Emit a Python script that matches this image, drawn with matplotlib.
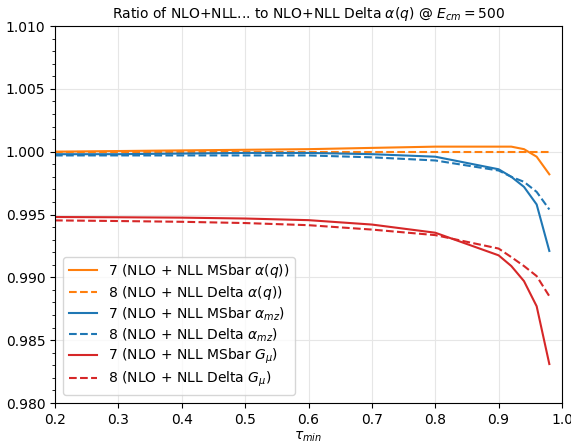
import matplotlib
matplotlib.use("Agg")
import matplotlib.pyplot as plt
from matplotlib.ticker import MultipleLocator, FormatStrFormatter

tau = [0.2, 0.3, 0.4, 0.5, 0.6, 0.7, 0.8, 0.9, 0.92, 0.94, 0.96, 0.98]

msbar_aq = [1.0000, 1.00005, 1.0001, 1.00015, 1.0002, 1.0003, 1.0004, 1.0004, 1.0004, 1.0002, 0.9996, 0.9982]
delta_aq = [1.0] * len(tau)
msbar_amz = [0.9998, 0.9998, 0.99985, 0.9999, 0.9999, 0.9998, 0.9996, 0.9986, 0.9980, 0.9972, 0.9958, 0.9921]
delta_amz = [0.9997, 0.9997, 0.9997, 0.9997, 0.9997, 0.99955, 0.9993, 0.9985, 0.9980, 0.9976, 0.9968, 0.9954]
msbar_gmu = [0.9948, 0.99478, 0.99475, 0.99468, 0.99455, 0.9942, 0.99355, 0.99175, 0.9909, 0.9897, 0.9877, 0.9831]
delta_gmu = [0.99453, 0.99448, 0.99442, 0.99432, 0.99415, 0.9938, 0.99336, 0.99229, 0.99161, 0.9909, 0.9901, 0.9885]

labels = [
    r"7 (NLO + NLL MSbar $\alpha(q)$)",
    r"8 (NLO + NLL Delta $\alpha(q)$)",
    r"7 (NLO + NLL MSbar $\alpha_{mz}$)",
    r"8 (NLO + NLL Delta $\alpha_{mz}$)",
    r"7 (NLO + NLL MSbar $G_{\mu}$)",
    r"8 (NLO + NLL Delta $G_{\mu}$)",
]

fig = plt.figure(figsize=(5.71, 4.43), dpi=100)
ax = fig.add_axes([55/571, 1 - 403/443, 507/571, 377/443])

ax.plot(tau, msbar_aq, color="#ff7f0e", ls="-", label=labels[0])
ax.plot(tau, delta_aq, color="#ff7f0e", ls="--", label=labels[1])
ax.plot(tau, msbar_amz, color="#1f77b4", ls="-", label=labels[2])
ax.plot(tau, delta_amz, color="#1f77b4", ls="--", label=labels[3])
ax.plot(tau, msbar_gmu, color="#d62728", ls="-", label=labels[4])
ax.plot(tau, delta_gmu, color="#d62728", ls="--", label=labels[5])

ax.set_xlim(0.2, 1.0)
ax.set_ylim(0.980, 1.010)
ax.yaxis.set_major_locator(MultipleLocator(0.005))
ax.yaxis.set_minor_locator(MultipleLocator(0.001))
ax.yaxis.set_major_formatter(FormatStrFormatter("%.3f"))
ax.xaxis.set_major_locator(MultipleLocator(0.1))
ax.xaxis.set_major_formatter(FormatStrFormatter("%.1f"))
ax.grid(True, which="major", color="#e6e6e6", lw=0.8)
ax.tick_params(labelsize=10)

ax.set_title(r"Ratio of NLO+NLL... to NLO+NLL Delta $\alpha(q)$ @ $E_{cm} = 500$", fontsize=10)
ax.set_xlabel(r"$\tau_{min}$", fontsize=10, labelpad=2)
ax.legend(loc="lower left", fontsize=10, labelspacing=0.25, borderaxespad=0.6)

fig.savefig("out.png", dpi=100)
